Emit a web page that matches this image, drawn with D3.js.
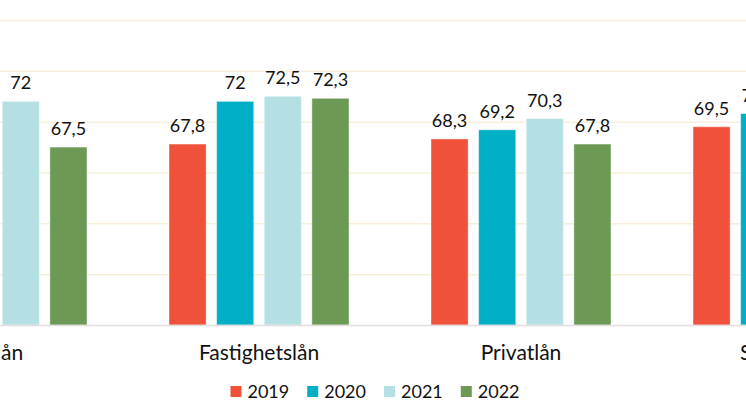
<!DOCTYPE html>
<html>
<head>
<meta charset="utf-8">
<script src="https://cdn.jsdelivr.net/npm/d3@7"></script>
<style>
  html, body { margin: 0; padding: 0; background: #fff; }
  svg { display: block; }
  text { font-family: Lato, "Open Sans", sans-serif; fill: #111; }
</style>
</head>
<body>
<svg id="chart" width="746" height="419"></svg>
<script>
// ---- data ----
const categories = ["Bolån", "Fastighetslån", "Privatlån", "Sparande"];
const seriesNames = ["2019", "2020", "2021", "2022"];
// values per series, aligned with categories (null = outside visible area)
const v2019 = [null, 67.8, 68.3, 69.5];
const v2020 = [null, 72, 69.2, 70.8];
const v2021 = [72, 72.5, 70.3, null];
const v2022 = [67.5, 72.3, 67.8, null];
const seriesValues = [v2019, v2020, v2021, v2022];
const colors = ["#F0513A", "#00AFC5", "#B4E0E4", "#6C9A55"];
const gridTicks = [55, 60, 65, 70, 75, 80];

// ---- layout ----
const svg = d3.select("#chart");
const W = 746;
const y = d3.scaleLinear().domain([50, 80]).range([325, 20]);
const x = d3.scaleBand().domain(categories).range([-134, 914]).padding(0);
const xs = d3.scaleBand().domain(seriesNames).range([-90, 90]).paddingInner(0.22);

// gridlines
const gridAxis = d3.axisLeft(y).tickValues(gridTicks).tickSize(-W).tickFormat("");
const g = svg.append("g").call(gridAxis);
g.select(".domain").remove();
g.selectAll(".tick line").attr("stroke", "#F7EFDA").attr("stroke-width", 1.5);

// bars
const rows = [];
categories.forEach((c, ci) => {
  seriesNames.forEach((s, si) => {
    const v = seriesValues[si][ci];
    if (v !== null) rows.push({ c, s, si, v });
  });
});

const bars = svg.append("g");
bars.selectAll("rect").data(rows).enter().append("rect")
  .attr("x", d => x(d.c) + x.bandwidth() / 2 + xs(d.s))
  .attr("width", xs.bandwidth())
  .attr("y", d => y(d.v))
  .attr("height", d => y(50) - y(d.v))
  .attr("fill", d => colors[d.si])
  .attr("stroke", "rgba(255,255,255,0.45)")
  .attr("stroke-width", 1);

// value labels
bars.selectAll("text").data(rows).enter().append("text")
  .attr("x", d => x(d.c) + x.bandwidth() / 2 + xs(d.s) + xs.bandwidth() / 2)
  .attr("y", d => y(d.v) - 12)
  .attr("text-anchor", "middle")
  .style("font-size", "18px")
  .text(d => String(d.v).replace(".", ","));

// baseline / x axis
const xAxis = d3.axisBottom(x).tickSize(0).tickPadding(0);
const ax = svg.append("g").attr("transform", `translate(0,${y(50)})`).call(xAxis);
ax.select(".domain").attr("stroke", "#E3DCDC").attr("stroke-width", 1.5);
ax.selectAll(".tick text")
  .attr("y", 34.5).attr("dy", 0)
  .style("font-size", "21px")
  .style("font-family", "Lato, sans-serif")
  .attr("fill", "#111");

// legend
const leg = svg.append("g");
const items = leg.selectAll("g").data(seriesNames).enter().append("g");
items.append("rect").attr("width", 11).attr("height", 11).attr("y", 386)
  .attr("fill", (d, i) => colors[i]);
items.append("text").attr("x", 17).attr("y", 397.5)
  .style("font-size", "18px").text(d => d);
let widths = [];
items.each(function () { widths.push(this.getBBox().width); });
const gap = 18;
const total = d3.sum(widths) + gap * (widths.length - 1);
let cx = (W - total) / 2 + 2;
items.attr("transform", (d, i) => { const t = `translate(${cx},0)`; cx += widths[i] + gap; return t; });
</script>
</body>
</html>
